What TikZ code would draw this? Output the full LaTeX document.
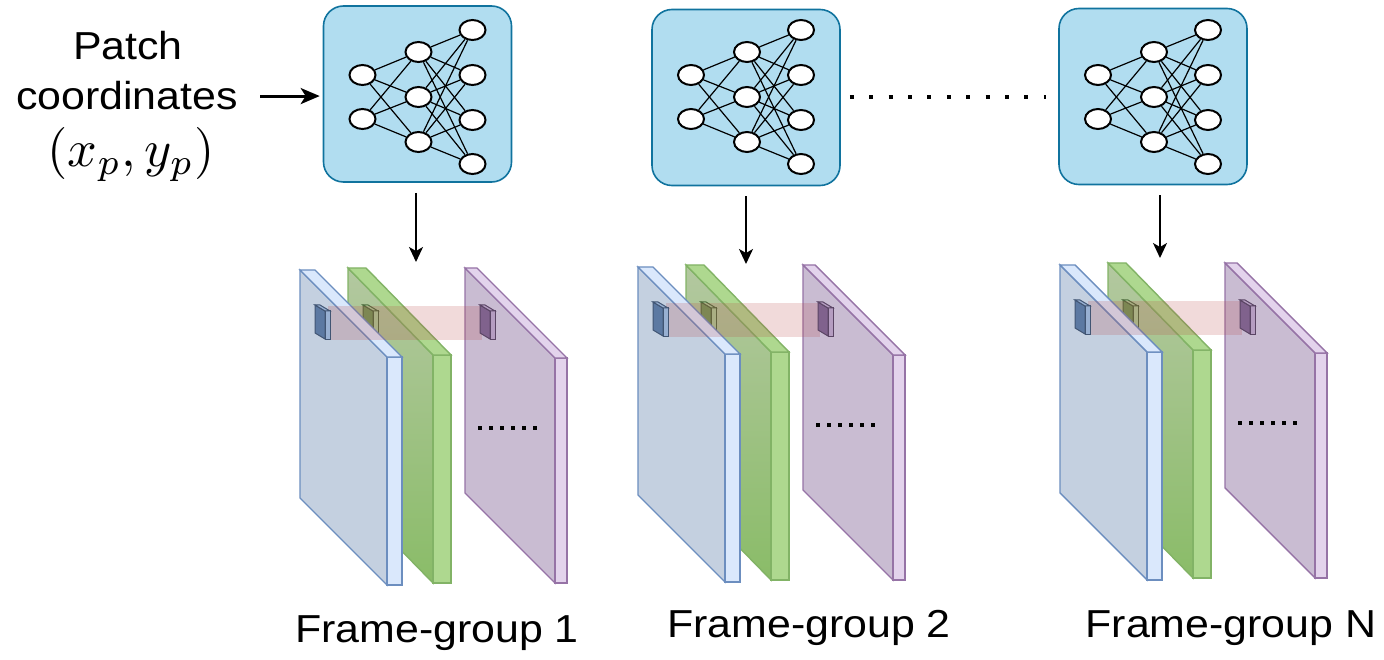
\documentclass[tikz,border=0pt]{standalone}
\usepackage{graphicx}
\usepackage{fontspec}
\setmainfont{Liberation Sans}[FakeStretch=1.1]
\usetikzlibrary{arrows.meta,shapes.geometric}

% colours of the network boxes
\definecolor{nnfill}{HTML}{B1DDF0}
\definecolor{nnline}{HTML}{10739E}
% colours of the frame panels
\definecolor{bluefc}{HTML}{C4D0E0}
\definecolor{bluest}{HTML}{DAE8FC}
\definecolor{blueln}{HTML}{6C8EBF}
\definecolor{greentop}{HTML}{B3C8A0}
\definecolor{greenbot}{HTML}{8ABC68}
\definecolor{greenst}{HTML}{AED88F}
\definecolor{greenln}{HTML}{82B366}
\definecolor{purplefc}{HTML}{C9BCD2}
\definecolor{purplest}{HTML}{E3D3EC}
\definecolor{purpleln}{HTML}{9673A6}

% slab: x, y, width, drop, height, thickness, face style, edge style
\newcommand{\panel}[8]{%
  \path[#7] (#1,#2) -- ++(#3,#4) -- ++(0,#5) -- ++(-#3,-#4) -- cycle;
  \path[#8] ({#1+#3},{#2+#4}) -- ++(#6,0) -- ++(0,#5) -- ++(-#6,0) -- cycle;
  \path[#8] (#1,#2) -- ++(#6,0) -- ++(#3,#4) -- ++(-#6,0) -- cycle;
}

\begin{document}
\begin{tikzpicture}[x=1pt,y=-1pt,
	nnbox/.style={draw=nnline, fill=nnfill, line width=1.6pt, rounded corners=20pt,
		minimum width=188pt, minimum height=176pt, inner sep=0pt},
	neuron/.style={ellipse, draw, fill=white, line width=2pt,
		minimum width=26pt, minimum height=20pt, inner sep=0pt},
	link/.style={line width=1.2pt},
	txt/.style={font=\fontsize{39}{47}\selectfont, inner sep=0pt, anchor=base},
	inarr/.style={line width=3pt, -{Stealth[length=19pt,width=16pt,inset=5pt]},
		shorten <=22pt, shorten >=3pt},
	downarr/.style={line width=1.8pt, -{Stealth[length=15pt,width=14pt,inset=4pt]},
		shorten <=10pt},
	dotrow/.style={line width=4pt, dash pattern=on 4pt off 15.4pt,
		shorten <=9pt, shorten >=12pt},
	bface/.style={fill=bluefc, draw=blueln, line width=1.4pt},
	bedge/.style={fill=bluest, draw=blueln, line width=1.4pt},
	gface/.style={top color=greentop, bottom color=greenbot, draw=greenln, line width=1.4pt},
	gedge/.style={fill=greenst, draw=greenln, line width=1.4pt},
	pface/.style={fill=purplefc, draw=purpleln, line width=1.4pt},
	pedge/.style={fill=purplest, draw=purpleln, line width=1.4pt},
	bpatch/.style={fill=blueln!85!black, draw=blueln!60!black, line width=1pt},
	bpatchedge/.style={fill=blueln!70, draw=blueln!60!black, line width=1pt},
	gpatch/.style={fill=greenln!85!black, draw=greenln!60!black, line width=1pt},
	gpatchedge/.style={fill=greenln!70, draw=greenln!60!black, line width=1pt},
	ppatch/.style={fill=purpleln!85!black, draw=purpleln!60!black, line width=1pt},
	ppatchedge/.style={fill=purpleln!70, draw=purpleln!60!black, line width=1pt},
	band/.style={fill=red!45!gray, opacity=0.2}
	]
	\useasboundingbox (0,0) rectangle (1384,660);
	
	% input text
	\node[txt] (lblpatch) at (128,60) {Patch};
	\node[txt] (lblcoord) at (127,110) {coordinates};
	\node[inner sep=0pt, anchor=base] (lblxy) at (131,167)
		{\scalebox{5.2}{$(x_p, y_p)$}};
	
	% networks
	\foreach \i/\cx/\by/\cy in {1/417.5/94/97, 2/746/97.5/97, 3/1153/96.5/97} {
		\node[nnbox] (nn\i) at (\cx,\by) {};
		\foreach \k/\dy in {1/-22, 2/22}
			\node[neuron] (n\i-a\k) at (\cx-55,\cy+\dy) {};
		\foreach \k/\dy in {1/-45, 2/0, 3/45}
			\node[neuron] (n\i-b\k) at (\cx+1,\cy+\dy) {};
		\foreach \k/\dy in {1/-67, 2/-22, 3/23, 4/67}
			\node[neuron] (n\i-c\k) at (\cx+55,\cy+\dy) {};
		\foreach \a in {1,2}
			\foreach \b in {1,2,3}
				\draw[link] (n\i-a\a) -- (n\i-b\b);
		\foreach \a in {1,2,3}
			\foreach \b in {1,...,4}
				\draw[link] (n\i-b\a) -- (n\i-c\b);
	}
	
	\draw[inarr] (lblcoord.east) -- (lblcoord.east -| nn1.west);
	\draw[dotrow] (nn2.east) -- (nn2.east -| nn3.west);
	
	% frame groups
	\foreach \g/\ox/\oy in {1/300/270, 2/638/267, 3/1060/265} {
		\begin{scope}[shift={(\ox,\oy)}]
			\panel{165}{-2}{90}{90}{225}{12}{pface}{pedge}
			\panel{48}{-2}{85}{87}{228}{18}{gface}{gedge}
			\panel{63}{35}{10}{6}{22}{5}{gpatch}{gpatchedge}
			\panel{0}{0}{87}{87}{228}{15}{bface}{bedge}
			\fill[band] (28,36) rectangle (182,70);
			\panel{15}{35}{10}{6}{28}{5}{bpatch}{bpatchedge}
			\panel{180}{35}{10}{6}{28}{5}{ppatch}{ppatchedge}
			\foreach \k in {0,...,5}
				\fill (178+\k*11,156) rectangle ++(4,4);
		\end{scope}
	}
	
	% arrows down to the frames
	\coordinate (top1) at (416,262);
	\coordinate (top2) at (746,264);
	\coordinate (top3) at (1160,258);
	\foreach \i in {1,2,3}
		\draw[downarr] (nn\i.south -| top\i) -- (top\i);
	
	% group names
	\node[txt] (fg1) at (437,642) {Frame-group 1};
	\node[txt] (fg2) at (809,637) {Frame-group 2};
	\node[txt] (fg3) at (1231,637) {Frame-group N};
	
\end{tikzpicture}
\end{document}
